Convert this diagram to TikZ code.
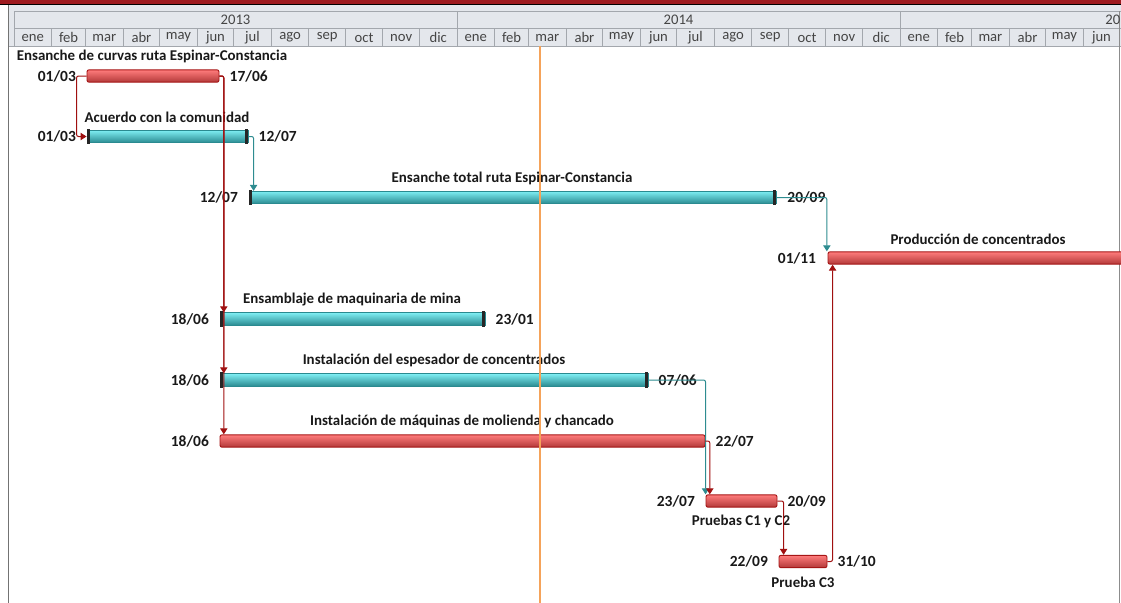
\documentclass[tikz,border=0pt]{standalone}
\usepackage{fontspec}
\setmainfont{Carlito}
\usetikzlibrary{arrows.meta}
\definecolor{hdrbg}{HTML}{E4E7EC}
\definecolor{hdrline}{HTML}{A3A7AD}
\definecolor{hdrtxt}{HTML}{454545}
\definecolor{topband}{HTML}{9E1B20}
\definecolor{redfill}{HTML}{F45454}
\definecolor{redtop}{HTML}{FF7C7C}
\definecolor{reddark}{HTML}{A51616}
\definecolor{cyanfill}{HTML}{5CE3EA}
\definecolor{cyantop}{HTML}{7EEEF3}
\definecolor{cyandark}{HTML}{2A8A90}
\definecolor{linkred}{HTML}{A01010}
\definecolor{linkteal}{HTML}{2E8C90}
\definecolor{todayc}{HTML}{F5A35A}
\newcommand\ganttbar[5]{\node[#5, minimum width={(#3-#2)*0.75pt}] (#1) at ({(#2+#3)/2},#4) {};}
\newcommand\gcaps[1]{%
  \fill[black!85] ([yshift=0.75pt]#1.north west) rectangle ([xshift=2.6pt,yshift=-0.75pt]#1.south west);
  \fill[black!85] ([yshift=0.75pt]#1.north east) rectangle ([xshift=-2.6pt,yshift=-0.75pt]#1.south east);}
\begin{document}
\begin{tikzpicture}[x=0.75pt,y=-0.75pt,
  redbar/.style={draw=reddark, line width=0.7pt, rounded corners=1.5pt, top color=redtop, middle color=redfill, bottom color=reddark!85, inner sep=0pt, minimum height=9.3pt},
  cyanbar/.style={draw=cyandark, line width=0.7pt, top color=cyantop, middle color=cyanfill, bottom color=cyandark, inner sep=0pt, minimum height=9.3pt},
  namelbl/.style={font=\bfseries\fontsize{11.2}{13}\selectfont, text=black!90, inner sep=0pt},
  datelbl/.style={font=\bfseries\fontsize{11.6}{13}\selectfont, text=black!90, inner sep=0pt},
  hdrlbl/.style={font=\fontsize{11}{13}\selectfont, text=hdrtxt, inner sep=0pt},
  linkr/.style={draw=linkred, line width=0.75pt, rounded corners=1.5pt, -{Triangle[width=5.5pt,length=4.5pt]}},
  linkt/.style={draw=linkteal, line width=0.75pt, rounded corners=1.5pt, -{Triangle[width=5.5pt,length=4.5pt]}},
  hline/.style={draw=hdrline, line width=0.75pt}
]
\useasboundingbox (0,0) rectangle (1121,603);
\fill[white] (0,0) rectangle (1121,603);
% header
\fill[topband] (0,0) rectangle (1121,4);
\draw[black, line width=0.75pt] (0,4.5) -- (1121,4.5);
\fill[hdrbg] (8,5) rectangle (1121,46);
\draw[hline] (14,11) -- (1121,11);
\draw[hline] (14,28) -- (1121,28);
\draw[hline] (8,46) -- (1121,46);
\draw[draw=black!55, line width=0.75pt] (8,5) -- (8,603);
\draw[hline] (14,11) -- (14,46);
\foreach \off/\months in {0/{0/31/ene,31/59/feb,59/90/mar,90/120/abr,120/151/may,151/181/jun,181/212/jul,212/243/ago,243/273/sep,273/304/oct,304/334/nov,334/365/dic},
                          365/{0/31/ene,31/59/feb,59/90/mar,90/120/abr,120/151/may,151/181/jun,181/212/jul,212/243/ago,243/273/sep,273/304/oct,304/334/nov,334/365/dic},
                          730/{0/31/ene,31/59/feb,59/90/mar,90/120/abr,120/151/may,151/181/jun}}{
  \foreach \a/\b/\m in \months{
    \pgfmathsetmacro\xa{14+1.2137*(\a+\off)}
    \pgfmathsetmacro\xb{14+1.2137*(\b+\off)}
    \draw[hline] (\xb,28) -- (\xb,46);
    \node[hdrlbl] at ({(\xa+\xb)/2},37.5) {\m};
  }
}
\draw[hline] (457,11) -- (457,46);
\draw[hline] (900,11) -- (900,46);
\draw[draw=black!45, line width=0.75pt] (1119.7,11) -- (1119.7,603);
\node[hdrlbl] (y13) at (235.5,19.5) {2013};
\node[hdrlbl] (y14) at (678.5,19.5) {2014};
\node[hdrlbl, anchor=east] (y15) at (1120.5,19.5) {20};
% bars
\ganttbar{b1}{87}{219}{76}{redbar}
\ganttbar{b2}{87}{248}{136.5}{cyanbar}
\ganttbar{b3}{249}{776}{197.5}{cyanbar}
\ganttbar{b4}{828}{1130}{258}{redbar}
\ganttbar{b5}{220}{485}{319}{cyanbar}
\ganttbar{b6}{220}{648}{380}{cyanbar}
\ganttbar{b7}{220}{705}{441}{redbar}
\ganttbar{b8}{706}{777}{501}{redbar}
\ganttbar{b9}{779}{827}{561.5}{redbar}
\gcaps{b2}\gcaps{b3}\gcaps{b5}\gcaps{b6}
% names
\node[namelbl] (n1) at (152,56.5) {Ensanche de curvas ruta Espinar-Constancia};
\node[namelbl] (n2) at (167,117) {Acuerdo con la comunidad};
\node[namelbl] (n3) at (512,178) {Ensanche total ruta Espinar-Constancia};
\node[namelbl] (n4) at (978,239) {Producción de concentrados};
\node[namelbl] (n5) at (352,299.5) {Ensamblaje de maquinaria de mina};
\node[namelbl] (n6) at (434,360.5) {Instalación del espesador de concentrados};
\node[namelbl] (n7) at (462,421.5) {Instalación de máquinas de molienda y chancado};
\node[namelbl] (n8) at (741,521) {Pruebas C1 y C2};
\node[namelbl] (n9) at (803,582) {Prueba C3};
% dates
\node[datelbl, anchor=east] (s1) at ([xshift=-7.8pt]b1.west) {01/03};
\node[datelbl, anchor=west] (e1) at ([xshift=7.5pt]b1.east) {17/06};
\node[datelbl, anchor=east] (s2) at ([xshift=-7.8pt]b2.west) {01/03};
\node[datelbl, anchor=west] (e2) at ([xshift=7.5pt]b2.east) {12/07};
\node[datelbl, anchor=east] (s3) at ([xshift=-7.8pt]b3.west) {12/07};
\node[datelbl, anchor=west] (e3) at ([xshift=8pt]b3.east) {20/09};
\node[datelbl, anchor=east] (s4) at ([xshift=-8.5pt]b4.west) {01/11};
\node[datelbl, anchor=east] (s5) at ([xshift=-7.8pt]b5.west) {18/06};
\node[datelbl, anchor=west] (e5) at ([xshift=7.5pt]b5.east) {23/01};
\node[datelbl, anchor=east] (s6) at ([xshift=-7.8pt]b6.west) {18/06};
\node[datelbl, anchor=west] (e6) at ([xshift=7.5pt]b6.east) {07/06};
\node[datelbl, anchor=east] (s7) at ([xshift=-7.8pt]b7.west) {18/06};
\node[datelbl, anchor=west] (e7) at ([xshift=7.5pt]b7.east) {22/07};
\node[datelbl, anchor=east] (s8) at ([xshift=-7.8pt]b8.west) {23/07};
\node[datelbl, anchor=west] (e8) at ([xshift=7.5pt]b8.east) {20/09};
\node[datelbl, anchor=east] (s9) at ([xshift=-7.8pt]b9.west) {22/09};
\node[datelbl, anchor=west] (e9) at ([xshift=7.5pt]b9.east) {31/10};
% today line
\draw[todayc, line width=0.9pt] (540,46) -- (540,603);
% links
\draw[linkr] (b1.west) -- ++(-10,0) |- (b2.west);
\draw[linkr] (b1.east) -| ([xshift=3.2pt]b5.north west);
\draw[linkr] (b1.east) -| ([xshift=3.2pt]b6.north west);
\draw[linkr] (b1.east) -| ([xshift=3.2pt]b7.north west);
\draw[linkt] (b2.east) -| ([xshift=3.8pt]b3.north west);
\draw[linkt] (b3.east) -| ([xshift=-0.5pt]b4.north west);
\draw[linkt] (b6.east) -| ([xshift=0pt]b8.north west);
\draw[linkr] (b7.east) -| ([xshift=3.2pt]b8.north west);
\draw[linkr] (b8.east) -| ([xshift=3.8pt]b9.north west);
\draw[linkr] (b9.east) -| ([xshift=3.8pt]b4.south west);
\end{tikzpicture}
\end{document}
